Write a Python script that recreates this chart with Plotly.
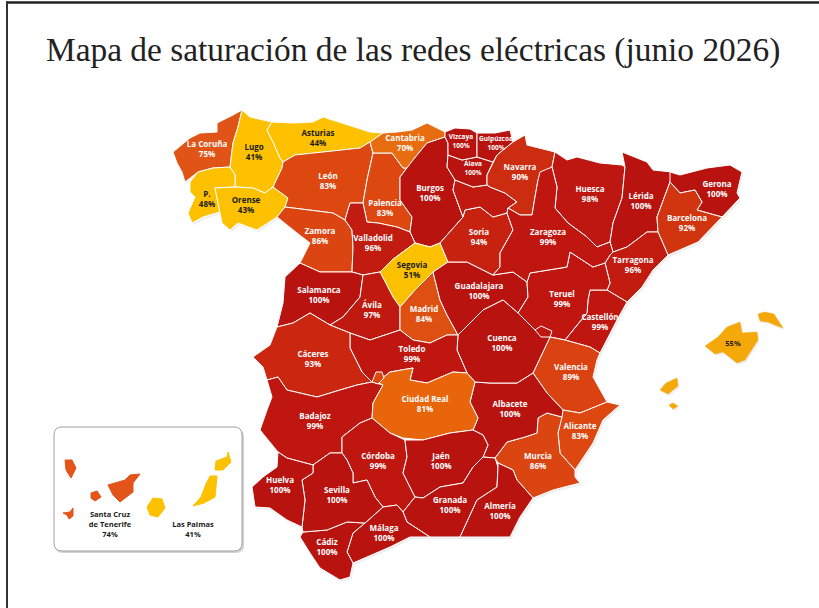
import plotly.graph_objects as go

TITLE = "Mapa de saturación de las redes eléctricas (junio 2026)"

# Values
provinces = ["La Coruña","Lugo","Asturias","Cantabria","Vizcaya","Guipúzcoa","Álava","Navarra","León","Palencia",
             "Burgos","P.","Orense","Huesca","Lérida","Gerona","Barcelona","Zamora","Valladolid","Soria","Zaragoza",
             "Tarragona","Segovia","Salamanca","Guadalajara","Teruel","Ávila","Madrid","Castellón","Cuenca","Toledo",
             "Cáceres","Valencia","Ciudad Real","Badajoz","Albacete","Alicante","Córdoba","Jaén","Murcia","Huelva",
             "Sevilla","Granada","Almería","Málaga","Cádiz"]
saturation = [75,41,44,70,100,100,100,90,83,83,
              100,48,43,98,100,100,92,86,96,94,99,
              96,51,100,100,99,97,84,99,100,99,
              93,89,81,99,100,83,99,100,86,100,
              100,100,100,100,100]
balearic_value = 55
tenerife_value = 74
palmas_value = 41
rioja_value = 97

COLOR_BY_VALUE = {100:"#B91310",99:"#BF1610",98:"#BE1610",97:"#C01A10",96:"#C21B10",94:"#C7210F",93:"#CA2610",92:"#D03510",
                  90:"#CC2C10",89:"#DA4212",86:"#DB4512",84:"#DE4F12",83:"#DD4810",81:"#E8650C",75:"#E05418",74:"#E2541A",
                  70:"#E86C10",55:"#F5A80A",51:"#FBC100",48:"#FDC100",44:"#FDC100",43:"#FDC100",41:"#FDC100"}

# Province outlines, in the map's coordinate system
OUTLINES = {
 "La Coruña":[(242,110),(233,115),(217,123),(217,132),(200,133),(190,138),(173,152),(177,163),(182,172),(185,182),(198,172),(213,168),(230,167),(233,143),(238,127)],
 "Lugo":[(242,110),(238,127),(233,143),(230,167),(235,175),(235,187),(253,188),(265,193),(273,187),(282,168),(283,162),(280,158),(273,142),(267,130),(272,122),(250,117)],
 "Asturias":[(272,122),(267,130),(273,142),(280,158),(283,162),(295,155),(317,153),(343,150),(360,148),(370,142),(383,133),(370,132),(347,125),(323,117),(313,122),(293,123)],
 "P.":[(230,167),(213,168),(198,172),(190,182),(190,192),(195,197),(188,213),(192,223),(203,217),(220,212),(215,188),(235,187),(235,175)],
 "Orense":[(215,188),(220,212),(222,223),(230,230),(238,223),(257,230),(273,220),(277,217),(285,207),(288,198),(273,187),(265,193),(253,188),(235,187)],
 "León":[(283,162),(282,168),(273,187),(288,198),(285,207),(310,210),(333,213),(345,220),(350,203),(363,203),(367,180),(373,153),(370,142),(360,148),(343,150),(317,153),(295,155)],
 "Zamora":[(285,207),(277,217),(297,233),(310,243),(300,263),(320,272),(352,272),(353,247),(352,230),(345,220),(333,213),(310,210)],
 "Palencia":[(373,153),(367,180),(363,203),(367,222),(378,223),(397,227),(410,232),(412,217),(400,200),(400,177),(413,160),(413,168),(403,168),(392,153)],
 "Cantabria":[(383,133),(370,142),(373,153),(392,153),(403,168),(413,168),(413,160),(427,143),(445,137),(445,132),(427,123),(412,130),(397,132)],
 "Burgos":[(427,143),(413,160),(400,177),(400,200),(412,217),(410,232),(415,243),(430,247),(440,243),(463,217),(453,190),(455,180),(447,167),(448,155),(448,143),(445,137)],
 "Valladolid":[(350,203),(345,220),(352,230),(353,247),(352,272),(363,275),(380,272),(392,260),(415,243),(410,232),(397,227),(378,223),(367,222),(363,203)],
 "Segovia":[(415,243),(392,260),(380,272),(393,297),(400,307),(415,290),(433,272),(448,262),(440,243),(430,247)],
 "Salamanca":[(300,263),(285,277),(283,303),(277,327),(293,323),(310,313),(330,325),(343,317),(360,297),(363,275),(352,272),(320,272)],
 "Ávila":[(363,275),(360,297),(343,317),(330,325),(350,333),(370,340),(400,330),(400,307),(393,297),(380,272)],
 "Madrid":[(400,307),(400,330),(413,340),(430,343),(447,335),(458,335),(447,315),(440,300),(433,272),(415,290)],
 "Guadalajara":[(448,262),(467,262),(493,275),(513,272),(527,282),(528,297),(518,313),(503,300),(483,310),(463,330),(458,335),(447,315),(440,300),(433,272)],
 "Soria":[(463,217),(465,210),(480,207),(493,217),(507,213),(513,230),(500,253),(500,267),(493,275),(467,262),(448,262),(440,243)],
 "La Rioja":[(455,180),(473,187),(487,185),(490,187),(505,193),(517,202),(508,208),(507,213),(493,217),(480,207),(465,210),(463,217),(453,190)],
 "Álava":[(448,155),(462,160),(477,157),(493,162),(487,175),(487,185),(473,187),(455,180),(447,167)],
 "Vizcaya":[(445,132),(455,128),(470,129),(477,133),(477,157),(462,160),(448,155),(448,143),(445,137)],
 "Guipúzcoa":[(477,133),(495,133),(510,130),(513,142),(497,155),(493,162),(477,157)],
 "Navarra":[(513,142),(525,135),(527,145),(555,152),(552,167),(538,180),(535,197),(532,215),(520,215),(508,208),(517,202),(505,193),(490,187),(487,185),(487,175),(493,162),(497,155)],
 "Huesca":[(555,152),(552,167),(557,187),(555,208),(568,223),(587,237),(597,247),(610,242),(613,223),(622,198),(625,167),(622,165),(600,163),(577,157),(567,160)],
 "Lérida":[(622,152),(647,162),(653,170),(672,172),(670,182),(657,217),(658,232),(647,232),(627,247),(613,252),(610,242),(613,223),(622,198),(625,167)],
 "Gerona":[(670,172),(680,175),(707,168),(730,165),(742,172),(737,193),(740,198),(722,217),(697,210),(702,202),(695,190),(680,193),(670,182)],
 "Barcelona":[(670,182),(680,193),(695,190),(702,202),(697,210),(722,217),(698,242),(668,255),(658,232),(657,217)],
 "Tarragona":[(658,232),(668,255),(653,270),(642,287),(627,302),(607,290),(610,283),(605,263),(610,255),(613,252),(627,247),(647,232)],
 "Castellón":[(590,290),(607,290),(627,302),(617,320),(600,353),(590,347),(565,340),(573,330),(587,313),(588,300)],
 "Teruel":[(570,252),(593,267),(605,263),(610,283),(607,290),(590,290),(588,300),(587,313),(573,330),(565,340),(550,337),(535,330),(518,313),(528,297),(527,282),(530,273),(567,267)],
 "Zaragoza":[(538,180),(540,172),(552,167),(557,187),(555,208),(568,223),(587,237),(597,247),(610,242),(613,252),(610,255),(605,263),(593,267),(570,252),(567,267),(530,273),(527,282),(513,272),(493,275),(500,267),(500,253),(513,230),(507,213),(508,208),(520,215),(532,215),(535,197)],
 "Valencia":[(550,337),(533,373),(547,393),(563,410),(580,413),(607,402),(593,377),(597,360),(600,353),(590,347),(565,340)],
 "Alicante":[(563,410),(580,413),(607,402),(620,405),(603,420),(593,443),(575,470),(560,453),(558,433),(562,417)],
 "Murcia":[(547,413),(562,417),(558,433),(560,453),(575,470),(575,477),(580,483),(553,490),(533,498),(517,480),(513,470),(498,463),(495,458),(507,442),(525,437),(537,433),(538,418)],
 "Albacete":[(475,382),(490,383),(517,383),(533,373),(547,393),(563,410),(562,417),(547,413),(538,418),(537,433),(525,437),(507,442),(495,458),(483,457),(488,445),(483,435),(473,430),(478,418),(470,402)],
 "Cuenca":[(518,313),(535,330),(550,337),(533,373),(517,383),(490,383),(475,382),(467,373),(457,350),(458,335),(463,330),(483,310),(503,300)],
 "Toledo":[(350,333),(350,348),(362,372),(372,382),(377,382),(390,372),(413,368),(410,380),(427,383),(453,372),(467,373),(457,350),(458,335),(447,335),(430,343),(413,340),(400,330),(370,340)],
 "Cáceres":[(350,333),(330,325),(310,313),(293,323),(277,327),(270,345),(253,357),(263,367),(267,380),(278,377),(287,390),(317,397),(340,390),(357,385),(372,382),(362,372),(350,348)],
 "Badajoz":[(267,380),(278,377),(287,390),(317,397),(340,390),(357,385),(372,382),(383,385),(373,403),(372,418),(360,423),(342,437),(342,453),(330,453),(313,465),(287,458),(278,452),(260,430),(267,410),(272,397)],
 "Ciudad Real":[(372,418),(373,403),(383,385),(377,382),(390,372),(413,368),(410,380),(427,383),(453,372),(467,373),(475,382),(470,402),(478,418),(473,430),(450,433),(423,440),(403,438),(390,433)],
 "Córdoba":[(342,453),(342,437),(360,423),(372,418),(390,433),(405,440),(407,457),(403,473),(415,497),(403,512),(397,505),(383,507),(375,497),(367,480),(353,483),(353,473),(347,460)],
 "Jaén":[(405,440),(423,440),(450,433),(473,430),(483,435),(488,445),(483,457),(473,467),(463,483),(440,487),(423,498),(415,497),(403,473),(407,457)],
 "Granada":[(415,497),(423,498),(440,487),(463,483),(473,467),(483,457),(495,458),(498,467),(497,487),(477,500),(460,537),(430,537),(407,522),(403,512)],
 "Almería":[(498,463),(513,470),(517,480),(533,498),(520,517),(510,537),(483,537),(460,537),(477,500),(497,487),(498,467)],
 "Málaga":[(365,523),(383,507),(397,505),(403,512),(407,522),(430,537),(410,537),(390,547),(353,563),(347,552),(353,533)],
 "Cádiz":[(303,532),(327,530),(347,522),(365,523),(353,533),(347,552),(353,563),(350,577),(340,580),(320,568),(310,553),(300,537)],
 "Sevilla":[(302,480),(313,473),(313,465),(330,453),(342,453),(347,460),(353,473),(353,483),(367,480),(375,497),(383,507),(365,523),(347,522),(327,530),(303,532),(302,527),(305,500)],
 "Huelva":[(278,452),(287,458),(313,465),(313,473),(302,480),(305,500),(302,527),(287,520),(270,508),(255,507),(252,487),(263,477),(277,467)],
}
ENCLAVE = [(372,382),(376,372),(382,372),(384,378),(378,384)]
ADEMUZ = [(535,330),(541,326),(552,331),(550,337),(541,337)]
BALEARES = [
 [(705,346),(718,337),(727,327),(740,322),(742,333),(757,332),(758,340),(745,360),(737,363),(723,352),(715,354)],
 [(758,314),(765,312),(774,314),(783,328),(775,325),(768,322),(760,321)],
 [(660,390),(666,383),(677,378),(678,386),(668,394)],
 [(669,405),(673,403),(678,406),(673,409)],
]
TENERIFE_ISLES = [
 [(65,460),(72,460),(76,468),(71,478),(66,470)],
 [(108,485),(125,480),(130,475),(140,474),(133,483),(133,492),(120,502),(113,495)],
 [(91,493),(97,491),(101,497),(95,501),(91,498)],
 [(63,513),(70,512),(73,508),(73,516),(69,519),(67,515)],
]
PALMAS_ISLES = [
 [(147,507),(153,498),(162,499),(165,508),(158,517),(150,515)],
 [(210,476),(217,476),(215,497),(204,503),(193,506),(201,497),(206,484)],
 [(216,461),(227,457),(228,452),(231,462),(223,470),(215,470)],
]
LABEL_AT = {"La Coruña":(207,150),"Lugo":(254,153),"Asturias":(318,139),"Cantabria":(405,144),"Vizcaya":(461,142),
 "Guipúzcoa":(496,144),"Álava":(473,169),"Navarra":(520,173),"León":(328,182),"Palencia":(385,209),"Burgos":(430,194),
 "P.":(207,200),"Orense":(246,206),"Huesca":(590,195),"Lérida":(641,202),"Gerona":(717,190),"Barcelona":(687,224),
 "Zamora":(320,237),"Valladolid":(373,244),"Soria":(479,238),"Zaragoza":(548,238),"Tarragona":(633,266),"Segovia":(412,271),
 "Salamanca":(319,296),"Guadalajara":(479,292),"Teruel":(562,300),"Ávila":(372,311),"Madrid":(424,315),"Castellón":(600,323),
 "Cuenca":(502,344),"Toledo":(412,355),"Cáceres":(313,360),"Valencia":(571,373),"Ciudad Real":(425,405),"Badajoz":(315,422),
 "Albacete":(510,410),"Alicante":(580,432),"Córdoba":(378,462),"Jaén":(441,462),"Murcia":(538,462),"Huelva":(280,486),
 "Sevilla":(337,496),"Granada":(450,506),"Almería":(500,512),"Málaga":(384,534),"Cádiz":(327,548)}
SMALL = {"Vizcaya","Guipúzcoa","Álava"}
DARK_TEXT = {"Lugo","Asturias","P.","Orense","Segovia"}

def path_xy(polys):
    xs, ys = [], []
    for poly in polys:
        xs += [p[0] for p in poly] + [poly[0][0], None]
        ys += [p[1] for p in poly] + [poly[0][1], None]
    return xs, ys

def add_land(fig, polys, color, name, line="white", width=1.0):
    x, y = path_xy(polys)
    fig.add_trace(go.Scatter(x=x, y=y, mode="lines", fill="toself", fillcolor=color,
                             line=dict(color=line, width=width), name=name, hoverinfo="name", showlegend=False))

fig = go.Figure()

# soft drop shadow of the land masses
shadow = list(OUTLINES.values()) + BALEARES
sx, sy = path_xy([[(a + 1.5, b + 2) for a, b in poly] for poly in shadow])
fig.add_trace(go.Scatter(x=sx, y=sy, mode="lines", fill="toself", fillcolor="rgba(90,90,90,0.10)",
                         line=dict(color="rgba(0,0,0,0)", width=0), hoverinfo="skip", showlegend=False))

value_of = dict(zip(provinces, saturation))
value_of["La Rioja"] = rioja_value
for name, poly in OUTLINES.items():
    add_land(fig, [poly], COLOR_BY_VALUE[value_of[name]], name)
add_land(fig, [ENCLAVE], COLOR_BY_VALUE[83], "Enclave")
add_land(fig, [ADEMUZ], COLOR_BY_VALUE[99], "Rincón de Ademuz")
add_land(fig, BALEARES, COLOR_BY_VALUE[balearic_value], "Baleares", line=COLOR_BY_VALUE[balearic_value], width=0.5)

def labels(names, color, size):
    if not names:
        return
    fig.add_trace(go.Scatter(
        x=[LABEL_AT[n][0] for n in names], y=[LABEL_AT[n][1] for n in names],
        text=[f"{n}<br>{value_of[n]}%" for n in names], mode="text",
        textfont=dict(family="Open Sans", size=size, color=color, weight="bold"),
        hoverinfo="skip", showlegend=False))

labels([n for n in provinces if n not in DARK_TEXT and n not in SMALL], "#FFFFFF", 8)
labels([n for n in provinces if n in SMALL], "#FFFFFF", 6.5)
labels([n for n in provinces if n in DARK_TEXT], "#1A1A1A", 8)

# Canary inset islands and labels
add_land(fig, TENERIFE_ISLES, COLOR_BY_VALUE[tenerife_value], "Santa Cruz de Tenerife",
         line=COLOR_BY_VALUE[tenerife_value], width=1)
add_land(fig, PALMAS_ISLES, COLOR_BY_VALUE[palmas_value], "Las Palmas",
         line=COLOR_BY_VALUE[palmas_value], width=1)
fig.add_trace(go.Scatter(
    x=[733, 110, 193], y=[344, 525, 530],
    text=[f"{balearic_value}%", f"Santa Cruz<br>de Tenerife<br>{tenerife_value}%", f"Las Palmas<br>{palmas_value}%"],
    mode="text", textfont=dict(family="Open Sans", size=7.5, color="#1A1A1A", weight="bold"),
    hoverinfo="skip", showlegend=False))

def rounded(x0, y0, x1, y1, r):
    return (f"M {x0+r} {y0} L {x1-r} {y0} Q {x1} {y0} {x1} {y0+r} L {x1} {y1-r} Q {x1} {y1} {x1-r} {y1} "
            f"L {x0+r} {y1} Q {x0} {y1} {x0} {y1-r} L {x0} {y0+r} Q {x0} {y0} {x0+r} {y0} Z")

shapes = [
    dict(type="path", path=rounded(55, 429, 244, 553, 8), fillcolor="#D2D2D2", line=dict(width=0), layer="below"),
    dict(type="path", path=rounded(54, 427, 242, 551, 8), fillcolor="white", line=dict(color="#A0A0A0", width=1), layer="below"),
    dict(type="line", x0=6, x1=819, y0=2.5, y1=2.5, line=dict(color="#222222", width=2.5)),
    dict(type="line", x0=7, x1=7, y0=1.5, y1=608, line=dict(color="#333333", width=2)),
]

fig.update_layout(
    width=819, height=608, margin=dict(l=0, r=0, t=0, b=0),
    paper_bgcolor="white", plot_bgcolor="white", showlegend=False, shapes=shapes,
    xaxis=dict(range=[0, 819], visible=False, fixedrange=True),
    yaxis=dict(range=[608, 0], visible=False, fixedrange=True),
    annotations=[dict(text=TITLE, x=412.5, y=50, xref="x", yref="y", showarrow=False,
                      font=dict(family="Liberation Serif", size=33.4, color="#222222"))],
)
fig.write_html("out.html", config=dict(displayModeBar=False),
               post_script="document.body.style.margin='0';")
